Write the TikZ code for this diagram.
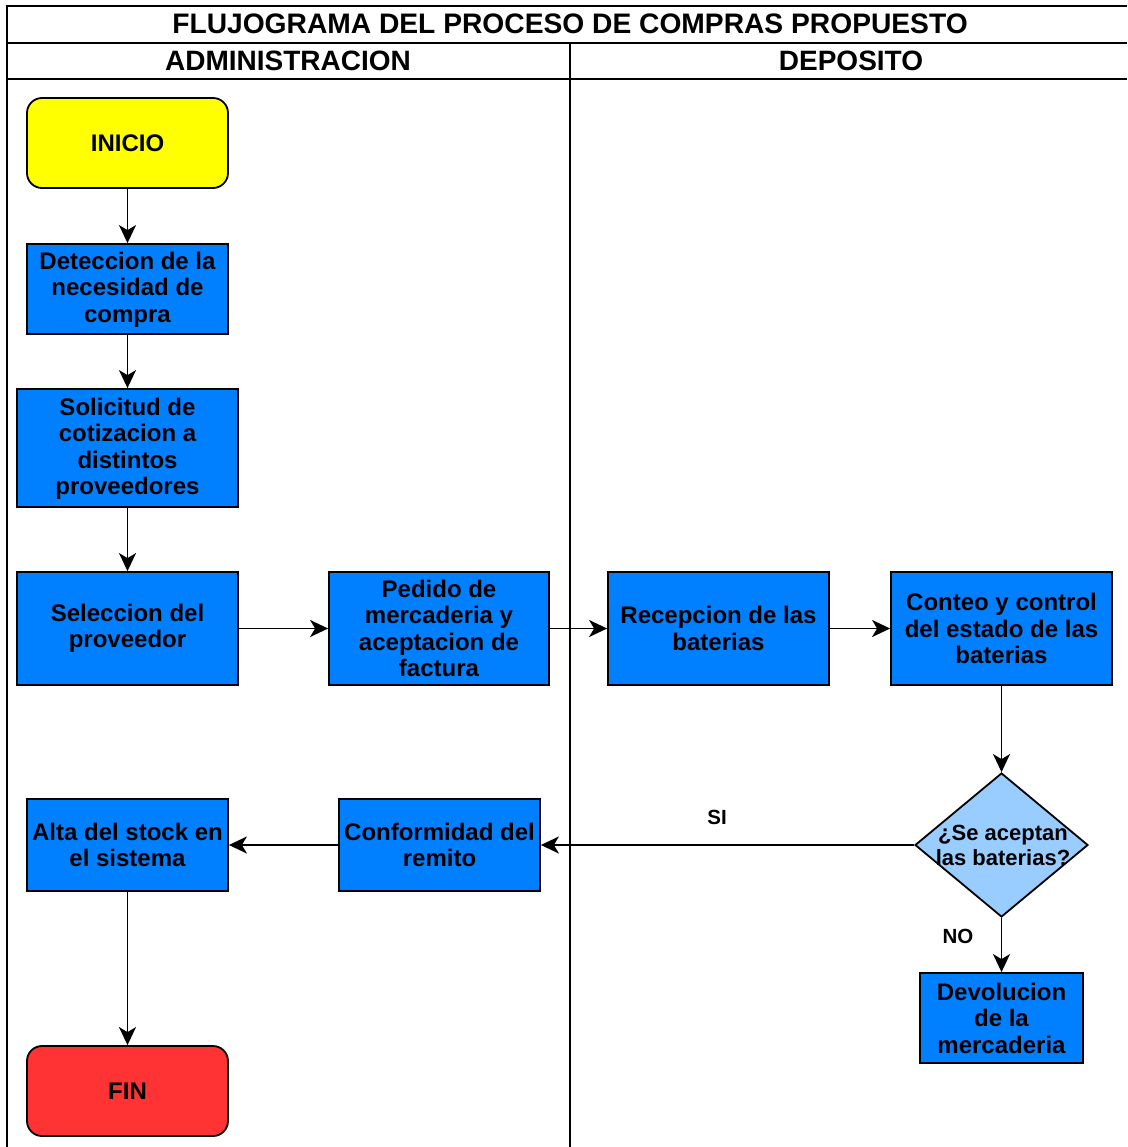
\documentclass[tikz,border=0pt]{standalone}
\usepackage{fontspec}
\setmainfont{Liberation Sans}
\usetikzlibrary{arrows.meta,shapes.geometric}
\definecolor{procblue}{HTML}{007FFF}
\definecolor{decblue}{HTML}{99CCFF}
\definecolor{startyellow}{HTML}{FFFF00}
\definecolor{endred}{HTML}{FF3333}
\begin{document}
\begin{tikzpicture}[x=1pt,y=-1pt,
  box/.style={draw=black,line width=1.8pt,fill=procblue,align=center,inner sep=0pt,
    font=\fontsize{24}{26.5}\selectfont\bfseries},
  terminal/.style={box,rounded corners=15pt},
  decision/.style={diamond,draw=black,line width=1.8pt,fill=decblue,inner sep=0pt,
    minimum width=173pt,minimum height=144pt},
  dectext/.style={align=center,inner sep=0pt,font=\fontsize{22}{25}\selectfont\bfseries},
  edgelabel/.style={inner sep=0pt,font=\fontsize{20.5}{24}\selectfont\bfseries},
  header/.style={inner sep=0pt,font=\fontsize{28}{32}\selectfont\bfseries},
  flow/.style={draw=black,line width=1.9pt,-{Stealth[length=18pt,width=17pt,inset=5pt]}},
  frame/.style={draw=black,line width=1.8pt}
  ]
\useasboundingbox (0,0) rectangle (1127,1147);

% swimlane frame
\draw[frame] (1127,6) -- (7,6) -- (7,1147);
\draw[frame] (7,43) -- (1127,43);
\draw[frame] (7,79) -- (1127,79);
\draw[frame] (570,43) -- (570,1147);

\node[header,font=\fontsize{28.2}{32}\selectfont\bfseries] (title) at (570,24) {FLUJOGRAMA DEL PROCESO DE COMPRAS PROPUESTO};
\node[header] (laneA) at (288,61) {ADMINISTRACION};
\node[header] (laneB) at (851,61) {DEPOSITO};

% process steps
\node[terminal,fill=startyellow,minimum width=201pt,minimum height=90pt] (inicio) at (127.5,143) {INICIO};
\node[box,minimum width=201pt,minimum height=90pt] (det) at (127.5,289) {\strut Deteccion de la\\necesidad de\\compra};
\node[box,minimum width=221pt,minimum height=118pt] (sol) at (127.5,448) {\strut Solicitud de\\cotizacion a\\distintos\\proveedores};
\node[box,minimum width=221pt,minimum height=113pt] (sel) at (127.5,628.5) {Seleccion del\\proveedor};
\node[box,minimum width=220pt,minimum height=113pt] (ped) at (439,628.5) {Pedido de\\mercaderia y\\aceptacion de\\factura};
\node[box,minimum width=221pt,minimum height=113pt] (rec) at (718.5,628.5) {Recepcion de las\\baterias};
\node[box,minimum width=221pt,minimum height=113pt] (con) at (1001.5,628.5) {Conteo y control\\del estado de las\\baterias};
\node[decision] (dec) at (1001.5,845) {};
\node[dectext] (dect) at (1003,845) {¿Se aceptan\\las baterias?};
\node[box,minimum width=163pt,minimum height=90pt] (dev) at (1001.5,1018) {Devolucion\\de la\\mercaderia};
\node[box,minimum width=201pt,minimum height=92pt] (conf) at (439.5,845) {Conformidad del\\remito};
\node[box,minimum width=201pt,minimum height=92pt] (alta) at (127.5,845) {Alta del stock en\\el sistema};
\node[terminal,fill=endred,minimum width=201pt,minimum height=90pt] (fin) at (127.5,1091) {FIN};

% connectors
\draw[flow] (inicio) -- (det);
\draw[flow] (det) -- (sol);
\draw[flow] (sol) -- (sel);
\draw[flow] (sel) -- (ped);
\draw[flow] (ped) -- (rec);
\draw[flow] (rec) -- (con);
\draw[flow] (con) -- (dec);
\draw[flow] (dec.west) -- (conf);
\draw[flow] (dec.south) -- (dev);
\draw[flow] (conf) -- (alta);
\draw[flow] (alta) -- (fin);

\node[edgelabel] (si) at (717,817) {SI};
\node[edgelabel] (no) at (958,936) {NO};
\end{tikzpicture}
\end{document}
